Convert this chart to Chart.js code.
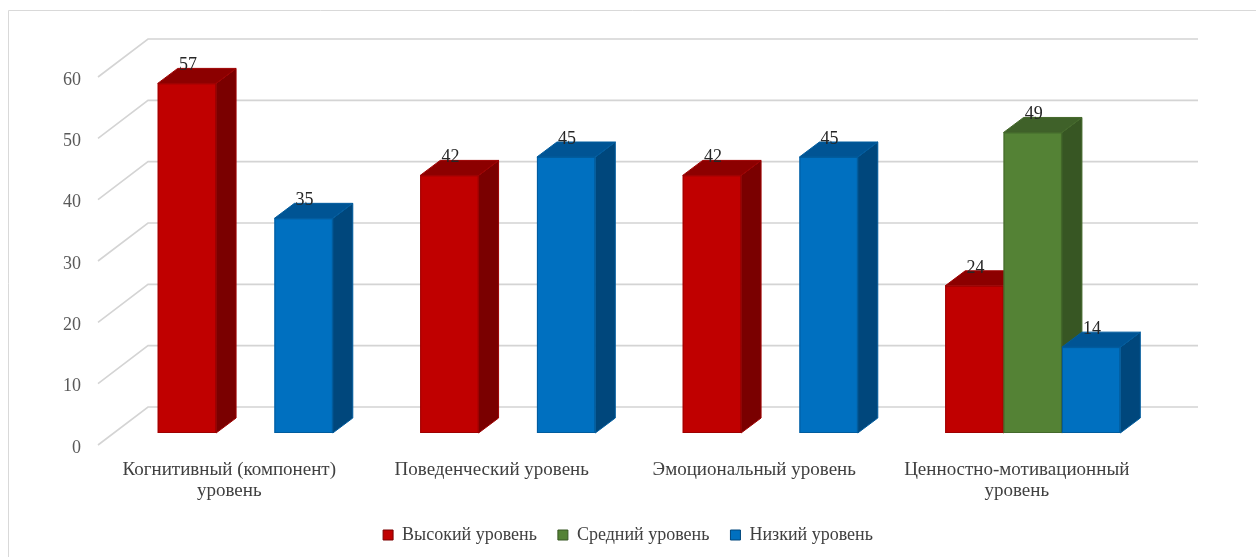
<!DOCTYPE html>
<html>
<head>
<meta charset="utf-8">
<script src="https://cdn.jsdelivr.net/npm/chart.js@4"></script>
<style>
  html, body { margin: 0; padding: 0; background: #fff; }
  #wrap { width: 1256px; height: 557px; position: relative; }
</style>
</head>
<body>
<div id="wrap"><canvas id="chart"></canvas></div>
<script>
// Data
const categories = [
  ["Когнитивный (компонент)", "уровень"],
  "Поведенческий уровень",
  "Эмоциональный уровень",
  ["Ценностно-мотивационный", "уровень"],
];
const seriesNames = ["Высокий уровень", "Средний уровень", "Низкий уровень"];
const highValues = [57, 42, 42, 24];
const midValues = [null, null, null, 49];
const lowValues = [35, 45, 45, 14];
const yTicks = [0, 10, 20, 30, 40, 50, 60];

const frontColors = ["#C00000", "#548235", "#0070C0"];
const edgeColors = ["#9E0000", "#44692B", "#005C9E"];
const sideColors = ["#7A0000", "#375623", "#00477C"];
const topColors = ["#8C0000", "#3F6129", "#005494"];

const FONT = "Liberation Serif";

// fake 3D: the Chart.js bars give the front faces, the plugin adds side/top
const bars3d = {
  id: "bars3d",
  beforeDraw(chart) {
    const ctx = chart.ctx;
    ctx.save();
    ctx.strokeStyle = "#d9d9d9";
    ctx.lineWidth = 1;
    ctx.beginPath();
    ctx.moveTo(8.5, chart.height);
    ctx.lineTo(8.5, 10.5);
    ctx.lineTo(chart.width, 10.5);
    ctx.stroke();
    ctx.restore();
  },
  beforeDatasetsDraw(chart) {
    const { ctx, chartArea: area } = chart;
    const yScale = chart.scales.y;
    ctx.save();
    // back wall + floor-side grid lines
    ctx.strokeStyle = "#d4d4d4";
    ctx.lineWidth = 1.6;
    yTicks.forEach((v) => {
      const py = yScale.getPixelForValue(v);
      ctx.beginPath();
      ctx.moveTo(area.left - 16, py + 12);
      ctx.lineTo(area.left + 34, py - 26);
      ctx.lineTo(area.right + 34, py - 26);
      ctx.stroke();
    });

    const dx = 20, dy = 15;
    chart.data.datasets.forEach((ds, i) => {
      const meta = chart.getDatasetMeta(i);
      meta.data.forEach((bar, j) => {
        if (ds.data[j] == null) return;
        const p = bar.getProps(["x", "y", "base", "width"], true);
        const l = p.x - p.width / 2, r = p.x + p.width / 2;
        const t = p.y, b = p.base;
        // front
        ctx.fillStyle = frontColors[i];
        ctx.fillRect(l, t, r - l, b - t);
        ctx.strokeStyle = edgeColors[i];
        ctx.lineWidth = 1;
        ctx.strokeRect(l + 0.5, t + 0.5, r - l - 1, b - t - 1);
        // side
        ctx.fillStyle = sideColors[i];
        ctx.beginPath();
        ctx.moveTo(r, t);
        ctx.lineTo(r + dx, t - dy);
        ctx.lineTo(r + dx, b - dy);
        ctx.lineTo(r, b);
        ctx.closePath();
        ctx.fill();
        ctx.stroke();
        // top
        ctx.fillStyle = topColors[i];
        ctx.beginPath();
        ctx.moveTo(l, t);
        ctx.lineTo(l + dx, t - dy);
        ctx.lineTo(r + dx, t - dy);
        ctx.lineTo(r, t);
        ctx.closePath();
        ctx.fill();
        ctx.stroke();
      });
    });

    // value labels
    ctx.fillStyle = "#262626";
    ctx.font = "18px '" + FONT + "'";
    ctx.textAlign = "center";
    ctx.textBaseline = "alphabetic";
    chart.data.datasets.forEach((ds, i) => {
      const meta = chart.getDatasetMeta(i);
      meta.data.forEach((bar, j) => {
        if (ds.data[j] == null) return;
        ctx.fillText(String(ds.data[j]), bar.x + 1, bar.y - 13);
      });
    });
    ctx.restore();
    return false;
  },
};

new Chart(document.getElementById("chart"), {
  type: "bar",
  data: {
    labels: categories,
    datasets: [
      { label: seriesNames[0], data: highValues, backgroundColor: frontColors[0], borderColor: sideColors[0], borderWidth: 1 },
      { label: seriesNames[1], data: midValues, backgroundColor: frontColors[1], borderColor: sideColors[1], borderWidth: 1 },
      { label: seriesNames[2], data: lowValues, backgroundColor: frontColors[2], borderColor: sideColors[2], borderWidth: 1 },
    ],
  },
  options: {
    responsive: true,
    maintainAspectRatio: false,
    animation: false,
    categoryPercentage: 0.667,
    barPercentage: 1.0,
    layout: { padding: { top: 65, right: 0, bottom: 3, left: 0 } },
    plugins: {
      tooltip: { enabled: false },
      legend: {
        position: "bottom",
        labels: {
          font: { family: FONT, size: 18 },
          color: "#404040",
          boxWidth: 10,
          boxHeight: 10,
          padding: 21,
        },
      },
    },
    scales: {
      x: {
        grid: { display: false, drawTicks: false },
        border: { display: false },
        ticks: {
          font: { family: FONT, size: 19, lineHeight: 1.12 },
          color: "#404040",
          padding: 26,
          labelOffset: -16,
          maxRotation: 0,
          autoSkip: false,
        },
        afterFit: (s) => { s.height = 72; },
      },
      y: {
        min: 0,
        max: 60,
        grid: { display: false, drawTicks: false },
        border: { display: false },
        ticks: {
          stepSize: 10,
          font: { family: FONT, size: 18 },
          color: "#595959",
          padding: 33,
          labelOffset: 15,
        },
        afterFit: (s) => { s.width = 114; },
      },
      yRight: {
        position: "right",
        grid: { display: false, drawTicks: false },
        border: { display: false },
        ticks: { display: false },
        afterFit: (s) => { s.width = 92; },
      },
    },
  },
  plugins: [bars3d],
});
</script>
</body>
</html>
